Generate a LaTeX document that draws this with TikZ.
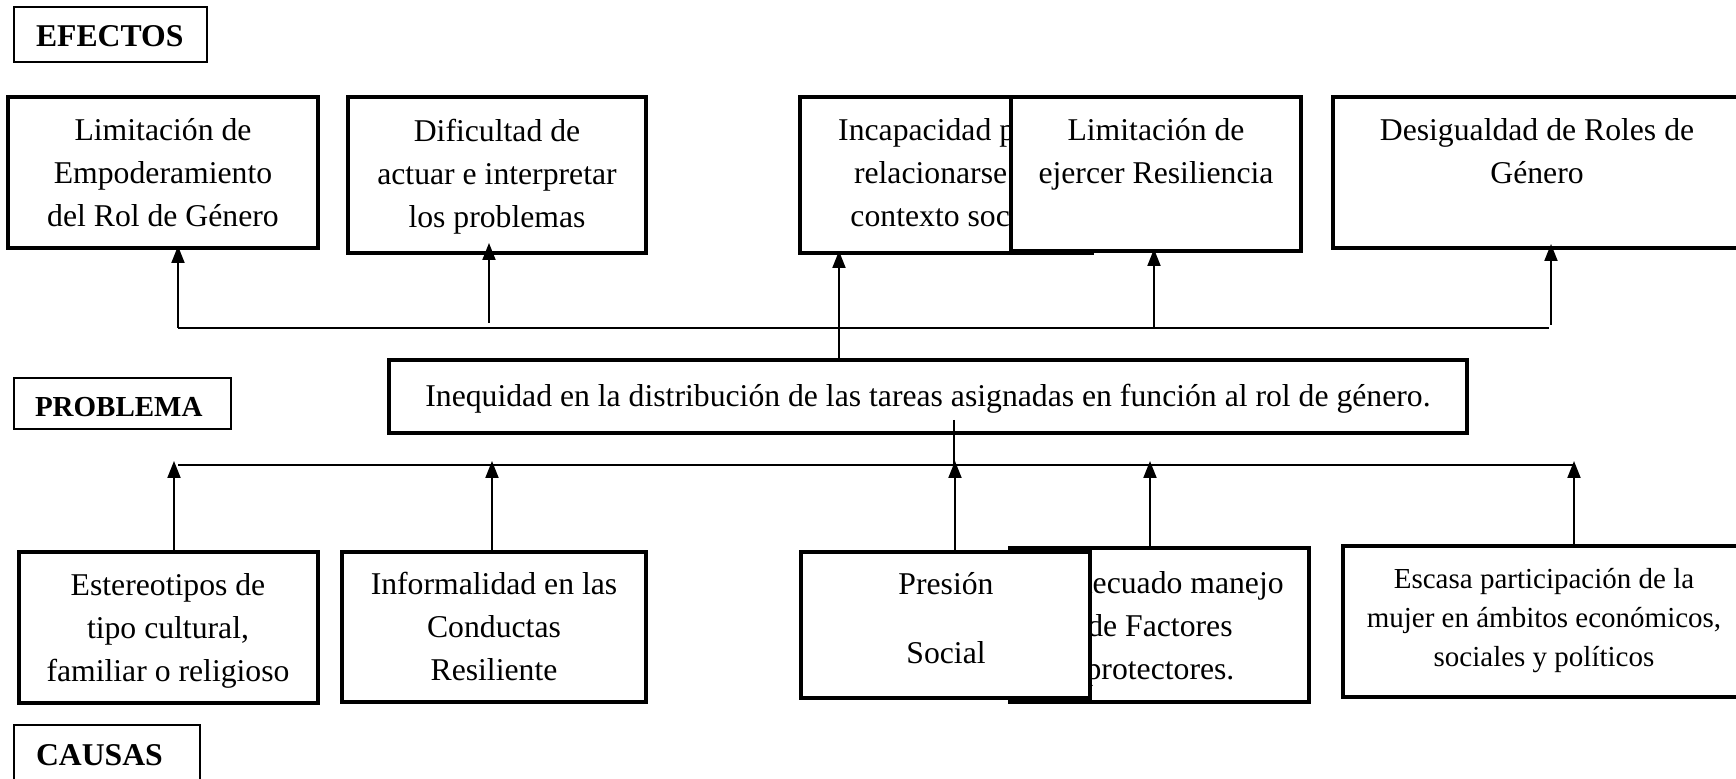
\documentclass[tikz,border=0pt]{standalone}
\usepackage{fontspec}
\setmainfont{Liberation Serif}
\usetikzlibrary{arrows.meta}
\newcommand{\bodyfont}{\fontsize{15.85}{21.5}\selectfont}
\newcommand{\smallbodyfont}{\fontsize{14.5}{19.5}\selectfont}
\newcommand{\hdrfont}{\fontsize{15.85}{19}\selectfont\bfseries}
\newcommand{\hdrsmallfont}{\fontsize{14.5}{17}\selectfont\bfseries}
\tikzset{
  ebox/.style={draw, line width=2pt, fill=white, inner sep=0pt},
  txt/.style={align=center, font=\bodyfont, inner sep=0pt},
  hdr/.style={draw, line width=0.6pt, fill=white, font=\hdrfont, align=left, inner xsep=11pt, inner ysep=0pt, text depth=0pt},
  conn/.style={line width=1pt},
  arr/.style={line width=1pt, -{Triangle[width=6.5pt,length=8.5pt]}, shorten >=-2pt}
}
\begin{document}
\begin{tikzpicture}[x=0.5pt,y=-0.5pt]
\useasboundingbox[fill=white] (0,0) rectangle (1736,779);

% headers
\node[hdr, text width=74.5pt, minimum height=27.5pt, text height=12.5pt] (hE) at (110.5,34.5) {EFECTOS};
\node[hdr, font=\hdrsmallfont, inner xsep=10.5pt, text width=87.5pt, minimum height=25.5pt, text height=13.5pt] (hP) at (122.5,403.5) {PROBLEMA};
\node[hdr, text width=71pt, minimum height=30pt, text height=11pt] (hC) at (107,755) {CAUSAS};

% effect boxes
\node[ebox, minimum width=155pt, minimum height=75.5pt] (E1) at (163,172.5) {};
\node[txt] (tE1) at (163,173) {Limitación de\\Empoderamiento\\del Rol de Género};
\node[ebox, minimum width=149pt, minimum height=78pt] (E2) at (497,175) {};
\node[txt] (tE2) at (497,176.5) {Dificultad de\\actuar e interpretar\\los problemas};
\node[ebox, minimum width=146pt, minimum height=78pt] (E3) at (946,175) {};
\node[txt] (tE3) at (946,173) {Incapacidad para\\relacionarse al\\contexto social};
\node[ebox, minimum width=145pt, minimum height=77pt] (E4) at (1156,174) {};
\node[txt] (tE4) at (1156,154.5) {Limitación de\\ejercer Resiliencia};
\node[ebox, minimum width=206pt, minimum height=75.5pt] (E5) at (1539,172.5) {};
\node[txt] (tE5) at (1537,151) {Desigualdad de Roles de\\Género};

% main problem
\node[ebox, minimum width=539pt, minimum height=36.5pt] (M) at (928,396.5) {};
\node[txt] (tM) at (928,398.5) {Inequidad en la distribución de las tareas asignadas en función al rol de género.};

% cause boxes
\node[ebox, minimum width=149.5pt, minimum height=75.5pt] (C1) at (168.5,627.5) {};
\node[txt] (tC1) at (168,630.5) {Estereotipos de\\tipo cultural,\\familiar o religioso};
\node[ebox, minimum width=152pt, minimum height=75pt] (C2) at (494,627) {};
\node[txt] (tC2) at (494,626.5) {Informalidad en las\\Conductas\\Resiliente};
\node[ebox, minimum width=149.5pt, minimum height=77pt] (C4) at (1159.5,625) {};
\node[txt] (tC4) at (1160,628.5) {Inadecuado manejo\\de Factores\\protectores.};
\node[ebox, minimum width=144.5pt, minimum height=73pt] (C3) at (945.5,625) {};
\node[txt] (tC3) at (946,618.5) {Presión\\[13pt]Social};
\node[ebox, minimum width=201pt, minimum height=75.5pt] (C5) at (1544,621.5) {};
\node[txt, font=\smallbodyfont] (tC5) at (1544,620.5) {Escasa participación de la\\mujer en ámbitos económicos,\\sociales y políticos};

% upper connectors (effects)
\coordinate (uL) at (178,328);
\coordinate (uR) at (1549,328);
\coordinate (u2) at (489,323);
\coordinate (x3) at (839,0);
\coordinate (u4) at (1154,328);
\coordinate (u5) at (1551,325);
\draw[conn] (uL) -- (uR);
\draw[arr] (uL) -- (uL |- E1.south);
\draw[arr, shorten >=-6pt] (u2) -- (u2 |- E2.south);
\draw[arr] (x3 |- M.north) -- (x3 |- E3.south);
\draw[arr] (u4) -- (u4 |- E4.south);
\draw[arr, shorten >=-3pt] (u5) -- (u5 |- E5.south);

% lower connectors (causes)
\coordinate (lL) at (178,465);
\coordinate (lR) at (1574,465);
\coordinate (md) at (954,420);
\coordinate (a1) at (174,465);
\coordinate (a2) at (492,465);
\coordinate (a3) at (955,465);
\coordinate (a4) at (1150,465);
\coordinate (a5) at (1574,465);
\draw[conn] (lL) -- (lR);
\draw[conn] (md) -- (md |- lL);
\draw[arr] (a1 |- C1.north) -- (a1);
\draw[arr] (a2 |- C2.north) -- (a2);
\draw[arr] (a3 |- C3.north) -- (a3);
\draw[arr] (a4 |- C4.north) -- (a4);
\draw[arr] (a5 |- C5.north) -- (a5);
\end{tikzpicture}
\end{document}
